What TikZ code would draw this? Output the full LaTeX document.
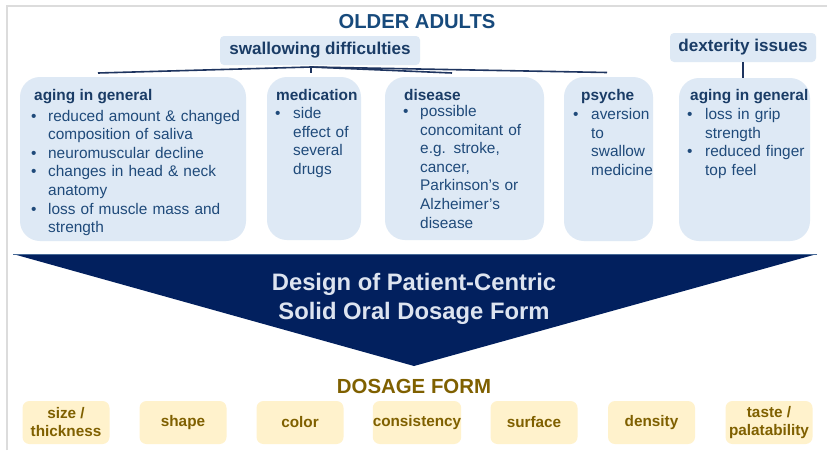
\documentclass[tikz,border=0pt]{standalone}
\usepackage{fontspec}
\setmainfont{Liberation Sans}
\definecolor{titleblue}{RGB}{23,74,124}
\definecolor{headblue}{RGB}{26,60,102}
\definecolor{bodyblue}{RGB}{31,74,122}
\definecolor{boxblue}{RGB}{222,233,245}
\definecolor{linenavy}{RGB}{30,52,95}
\definecolor{trinavy}{RGB}{2,32,94}
\definecolor{triedge}{RGB}{70,105,150}
\definecolor{tritext}{RGB}{221,228,240}
\definecolor{olive}{RGB}{127,96,0}
\definecolor{creambox}{RGB}{255,242,204}
\definecolor{framegray}{RGB}{220,220,220}
\newlength\bind
\newcommand{\bli}[1]{\noindent\hangindent=\bind\hangafter=1\makebox[\bind][l]{•}#1\par}
\tikzset{
  bigbox/.style={fill=boxblue, rounded corners=20pt, inner sep=0pt},
  tagbox/.style={fill=boxblue, rounded corners=4pt, inner sep=0pt, text=headblue,
    font=\bfseries\fontsize{17.1}{20}\selectfont},
  headtxt/.style={anchor=base west, inner sep=0pt, text=headblue,
    font=\bfseries\fontsize{15.4}{18.6}\selectfont},
  bodytxt/.style={anchor=base west, inner sep=0pt, text=bodyblue, text width=250pt, align=left,
    font=\fontsize{15.4}{18.6}\selectfont},
  conn/.style={draw=linenavy, line width=1.6pt},
  formbox/.style={fill=creambox, rounded corners=7pt, inner sep=0pt,
    minimum width=87pt, minimum height=43pt, text=olive, align=center,
    font=\bfseries\fontsize{15.3}{18}\selectfont},
}
\begin{document}
\begin{tikzpicture}[x=1pt,y=-1pt]
\useasboundingbox (0,0) rectangle (827,450);
\fill[white] (0,0) rectangle (827,450);
% frame
\draw[framegray, line width=1.5pt] (7,450) -- (7,6) -- (827,6);

% title
\node[text=titleblue, font=\bfseries\fontsize{20.2}{24}\selectfont, inner sep=0pt] (title) at (417,22) {OLDER ADULTS};

% tag boxes
\node[tagbox, minimum width=200pt, minimum height=29pt] (swal) at (320,50.5) {swallowing difficulties};
\node[tagbox, minimum width=146pt, minimum height=29pt] (dext) at (743,47.5) {dexterity issues};

% big boxes
\node[bigbox, minimum width=226pt, minimum height=164pt] (ag1) at (133,159) {};
\node[bigbox, minimum width=94pt, minimum height=163pt] (med) at (314,158.5) {};
\node[bigbox, minimum width=159pt, minimum height=163pt] (dis) at (464.5,158.5) {};
\node[bigbox, minimum width=89pt, minimum height=164pt] (psy) at (608.5,159) {};
\node[bigbox, minimum width=131pt, minimum height=163pt] (ag2) at (744.5,159.5) {};

% headers
\node[headtxt] (h1) at (34,100) {aging in general};
\node[headtxt] (h2) at (276,100) {medication};
\node[headtxt] (h3) at (404,100) {disease};
\node[headtxt] (h4) at (581,100) {psyche};
\node[headtxt] (h5) at (690,100) {aging in general};

% bodies
\node[bodytxt] (b1) at (31,121) {\setlength\bind{17pt}%
  \bli{reduced amount \& changed\newline composition of saliva}%
  \bli{neuromuscular decline}%
  \bli{changes in head \& neck\newline anatomy}%
  \bli{loss of muscle mass and\newline strength}};
\node[bodytxt] (b2) at (275,118.5) {\setlength\bind{18pt}%
  \bli{side\newline effect of\newline several\newline drugs}};
\node[bodytxt] (b3) at (403,116.5) {\setlength\bind{17pt}%
  \bli{possible\newline concomitant of\newline e.g. stroke,\newline cancer,\newline Parkinson’s or\newline Alzheimer’s\newline disease}};
\node[bodytxt] (b4) at (573,119.5) {\setlength\bind{18pt}%
  \bli{aversion\newline to\newline swallow\newline medicine}};
\node[bodytxt] (b5) at (687,119.5) {\setlength\bind{18pt}%
  \bli{loss in grip\newline strength}%
  \bli{reduced finger\newline top feel}};

% connectors
\coordinate (hub) at (311,67);
\coordinate (endA) at (98,73);
\coordinate (endB) at (452,73);
\coordinate (endC) at (607,72.5);
\coordinate (tick) at (311,72.5);
\draw[conn] (hub) -- (endA);
\draw[conn] (hub) -- (endB);
\draw[conn] (hub) -- (endC);
\draw[draw=linenavy, line width=1.2pt] (hub) -- (tick);
\draw[conn] (dext.south) -- (dext.south |- ag2.north);

% triangle
\coordinate (tl) at (13,254);
\coordinate (tr) at (817,254);
\coordinate (tb) at (414,366);
\fill[trinavy] (tl) -- (tr) -- (tb) -- cycle;
\draw[triedge, line width=1pt] (tl) -- (tr);
\node[text=tritext, align=center, inner sep=0pt, font=\bfseries\fontsize{23.8}{28.5}\selectfont] (design) at (414,299) {Design of Patient-Centric\\Solid Oral Dosage Form};

% dosage form
\node[text=olive, inner sep=0pt, font=\bfseries\fontsize{20.4}{24}\selectfont] (dft) at (414,386) {DOSAGE FORM};
\node[formbox] (f1) at (66,422.5) {size /\\thickness};
\node[formbox] (f2) at (183,422.5) {shape};
\node[formbox] (f3) at (300,422.5) {color};
\node[formbox] (f4) at (417,422.5) {consistency};
\node[formbox] (f5) at (534,422.5) {surface};
\node[formbox] (f6) at (651.5,422.5) {density};
\node[formbox] (f7) at (769,422.5) {taste /\\palatability};
\end{tikzpicture}
\end{document}
